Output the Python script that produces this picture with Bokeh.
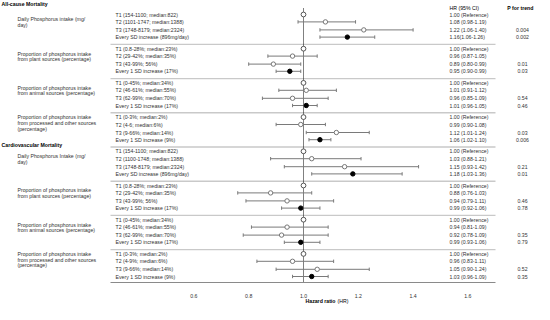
from bokeh.plotting import figure
from bokeh.models import Range1d, FixedTicker, ColumnDataSource, LinearAxis, PrintfTickFormatter
from bokeh.core.properties import value
from bokeh.embed import file_html
from bokeh.resources import INLINE

# ---------------- data ----------------
sections = ["All-cause Mortality", "Cardiovascular Mortality"]
group_labels = [
    ["Daily Phosphorus intake (mg/", "day)"],
    ["Proportion of phosphorus intake", "from plant sources (percentage)"],
    ["Proportion of phosphorus intake", "from animal sources (percentage)"],
    ["Proportion of phosphorus intake", "from processed and other sources", "(percentage)"],
    ["Daily Phosphorus Intake (mg/", "day)"],
    ["Proportion of phosphorus intake", "from plant sources (percentage)"],
    ["Proportion of phosphorus intake", "from animal sources (percentage)"],
    ["Proportion of phosphorus intake", "from processed and other sources", "(percentage)"],
]
row_labels = [
    "T1 (154-1100; median:822)", "T2 (1101-1747; median:1388)", "T3 (1748-8179; median:2324)", "Every SD increase (896mg/day)",
    "T1 (0.8-28%; median:23%)", "T2 (29-42%; median:35%)", "T3 (43-99%; 56%)", "Every 1 SD increase (17%)",
    "T1 (0-45%; median:34%)", "T2 (46-61%; median:55%)", "T3 (62-99%; median:70%)", "Every 1 SD increase (17%)",
    "T1 (0-3%; median:2%)", "T2 (4-6; median:6%)", "T3 (9-66%; median:14%)", "Every 1 SD increase (9%)",
    "T1 (154-1100; median:822)", "T2 (1100-1748; median:1388)", "T3 (1748-8179; median:2324)", "Every SD increase (896mg/day)",
    "T1 (0.8-28%; median:23%)", "T2 (29-42%; median:35%)", "T3 (43-99%; 56%)", "Every 1 SD increase (17%)",
    "T1 (0-45%; median:34%)", "T2 (46-61%; median:55%)", "T3 (62-99%; median:70%)", "Every 1 SD increase (17%)",
    "T1 (0-3%; median:2%)", "T2 (4-9%; median:6%)", "T3 (9-66%; median:14%)", "Every 1 SD increase (9%)",
]
hr = [1.00, 1.08, 1.22, 1.16,  1.00, 0.96, 0.89, 0.95,  1.00, 1.01, 0.96, 1.01,  1.00, 0.99, 1.12, 1.06,
      1.00, 1.03, 1.15, 1.18,  1.00, 0.88, 0.94, 0.99,  1.00, 0.94, 0.92, 0.99,  1.00, 0.96, 1.05, 1.03]
lo = [1.00, 0.98, 1.06, 1.06,  1.00, 0.87, 0.80, 0.90,  1.00, 0.91, 0.85, 0.96,  1.00, 0.90, 1.01, 1.02,
      1.00, 0.88, 0.93, 1.03,  1.00, 0.76, 0.79, 0.92,  1.00, 0.81, 0.78, 0.93,  1.00, 0.83, 0.90, 0.96]
hi = [1.00, 1.19, 1.40, 1.26,  1.00, 1.05, 0.99, 0.99,  1.00, 1.12, 1.09, 1.05,  1.00, 1.08, 1.24, 1.10,
      1.00, 1.21, 1.42, 1.36,  1.00, 1.03, 1.11, 1.06,  1.00, 1.09, 1.09, 1.06,  1.00, 1.11, 1.24, 1.09]
hr_text = [
    "1.00 (Reference)", "1.08 (0.98-1.19)", "1.22 (1.06-1.40)", "1.16(1.06-1.26)",
    "1.00 (Reference)", "0.96 (0.87-1.05)", "0.89 (0.80-0.99)", "0.95 (0.90-0.99)",
    "1.00 (Reference)", "1.01 (0.91-1.12)", "0.96 (0.85-1.09)", "1.01 (0.96-1.05)",
    "1.00 (Reference)", "0.99 (0.90-1.08)", "1.12 (1.01-1.24)", "1.06 (1.02-1.10)",
    "1.00 (Reference)", "1.03 (0.88-1.21)", "1.15 (0.93-1.42)", "1.18 (1.03-1.36)",
    "1.00 (Reference)", "0.88 (0.76-1.03)", "0.94 (0.79-1.11)", "0.99 (0.92-1.06)",
    "1.00 (Reference)", "0.94 (0.81-1.09)", "0.92 (0.78-1.09)", "0.99 (0.93-1.06)",
    "1.00 (Reference)", "0.96 (0.83-1.11)", "1.05 (0.90-1.24)", "1.03 (0.96-1.09)",
]
p_trend = ["", "", "0.004", "0.002",  "", "", "0.01", "0.03",  "", "", "0.54", "0.46",  "", "", "0.03", "0.006",
           "", "", "0.21", "0.01",  "", "", "0.46", "0.78",  "", "", "0.35", "0.79",  "", "", "0.52", "0.35"]
x_ticks = [0.6, 0.8, 1.0, 1.2, 1.4, 1.6]

# ---------------- layout (page pixels; the figure sits at 8,8) ----------------
FONT = "Liberation Sans"
FS = "5.2px"
W, H, M = 534, 304, 8
X1, PXU = 311.0, 274.0          # page x of HR=1.0, px per HR unit


def hx(px):
    return 1 + (px - X1) / PXU


G_START, G_PITCH = 22.0, 34.2
OFFS = [0.0, 7.4, 15.4, 22.6]
ys = [G_START + (i // 4) * G_PITCH + OFFS[i % 4] for i in range(len(hr))]
BOTTOM_LINE = 290.0

p = figure(width=W, height=H, output_backend="svg", toolbar_location=None,
           x_range=Range1d(hx(M), hx(M + W)), y_range=Range1d(M + H, M),
           x_axis_location=None, y_axis_location=None,
           min_border_left=0, min_border_right=0, min_border_top=0, min_border_bottom=0)
p.outline_line_color = None
p.grid.visible = False

ax = LinearAxis(fixed_location=BOTTOM_LINE, ticker=FixedTicker(ticks=x_ticks),
                formatter=PrintfTickFormatter(format="%.1f"))
ax.axis_line_color = None
ax.major_tick_line_color = None
ax.minor_tick_line_color = None
ax.major_label_text_font = FONT
ax.major_label_text_font_size = FS
ax.major_label_text_color = "#333333"
ax.major_label_standoff = 5
p.add_layout(ax, "below")

# separators
sep_y = [G_START + g * G_PITCH - 4.3 for g in range(1, 8)] + [BOTTOM_LINE]
sep_col = ["#c9c9c9"] * 7 + ["#8a8a8a"]
sep_w = [1.4] * 7 + [1.0]
p.segment(x0=[hx(118)] * 8, x1=[hx(503)] * 8, y0=sep_y, y1=sep_y,
          line_color=sep_col, line_width=sep_w)

# reference dotted line
p.segment(x0=[1.0], x1=[1.0], y0=[16], y1=[BOTTOM_LINE], line_color="black",
          line_width=1, line_dash="1 1")

# CIs
ci_idx = [i for i in range(len(hr)) if hi[i] > lo[i]]
src = ColumnDataSource(dict(
    lo=[lo[i] for i in ci_idx], hi=[hi[i] for i in ci_idx], y=[ys[i] for i in ci_idx],
    y0=[ys[i] - 1.7 for i in ci_idx], y1=[ys[i] + 1.7 for i in ci_idx]))
p.segment(x0="lo", x1="hi", y0="y", y1="y", source=src, line_color="#7a7a7a", line_width=1)
p.segment(x0="lo", x1="lo", y0="y0", y1="y1", source=src, line_color="#7a7a7a", line_width=1)
p.segment(x0="hi", x1="hi", y0="y0", y1="y1", source=src, line_color="#7a7a7a", line_width=1)

# markers
ref_i = [i for i in range(len(hr)) if i % 4 == 0]
t_i = [i for i in range(len(hr)) if i % 4 in (1, 2)]
sd_i = [i for i in range(len(hr)) if i % 4 == 3]
p.scatter(x=[hr[i] for i in t_i], y=[ys[i] for i in t_i], marker="circle", size=4.4,
          fill_color="white", line_color="#777777", line_width=1)
p.scatter(x=[hr[i] for i in ref_i], y=[ys[i] for i in ref_i], marker="circle", size=4.8,
          fill_color="white", line_color="#555555", line_width=1)
p.scatter(x=[hr[i] for i in sd_i], y=[ys[i] for i in sd_i], marker="circle", size=4.4,
          fill_color="black", line_color="black")

# texts
txt = dict(text_font=value(FONT), text_font_size=FS, text_baseline="middle", text_color="#333333")
p.text(x=[hx(123)] * len(row_labels), y=ys, text=row_labels, text_align="left", **txt)
p.text(x=[hx(457)] * len(hr_text), y=ys, text=hr_text, text_align="left", **txt)
p.text(x=[hx(530)] * len(p_trend), y=ys, text=p_trend, text_align="center", **txt)

gl_x, gl_y, gl_t = [], [], []
for g, lines in enumerate(group_labels):
    t1 = ys[g * 4]
    start = t1 + 0.3 if len(lines) == 3 else t1 + 4.8
    for k, line in enumerate(lines):
        gl_x.append(hx(25))
        gl_y.append(start + 5.6 * k)
        gl_t.append(line)
p.text(x=gl_x, y=gl_y, text=gl_t, text_align="left", **txt)

hdr = dict(text_font=value(FONT), text_font_size=FS, text_baseline="middle",
           text_color="black", text_font_style="bold")
p.text(x=[hx(9), hx(9)], y=[11, 152], text=sections, text_align="left", **hdr)
p.text(x=[hx(541)], y=[15], text=["P for trend"], text_align="right", **hdr)
p.text(x=[hx(457)], y=[15], text=["HR (95% CI)"], text_align="left",
       text_font=value(FONT), text_font_size=FS, text_baseline="middle", text_color="black")

p.text(x=[hx(313)], y=[308], text=["Hazard ratio"], text_align="left", **hdr)
p.text(x=[hx(345)], y=[308], text=["(HR)"], text_align="left",
       text_font=value(FONT), text_font_size=FS, text_baseline="middle", text_color="black")

open("out.html", "w").write(file_html(p, INLINE))
